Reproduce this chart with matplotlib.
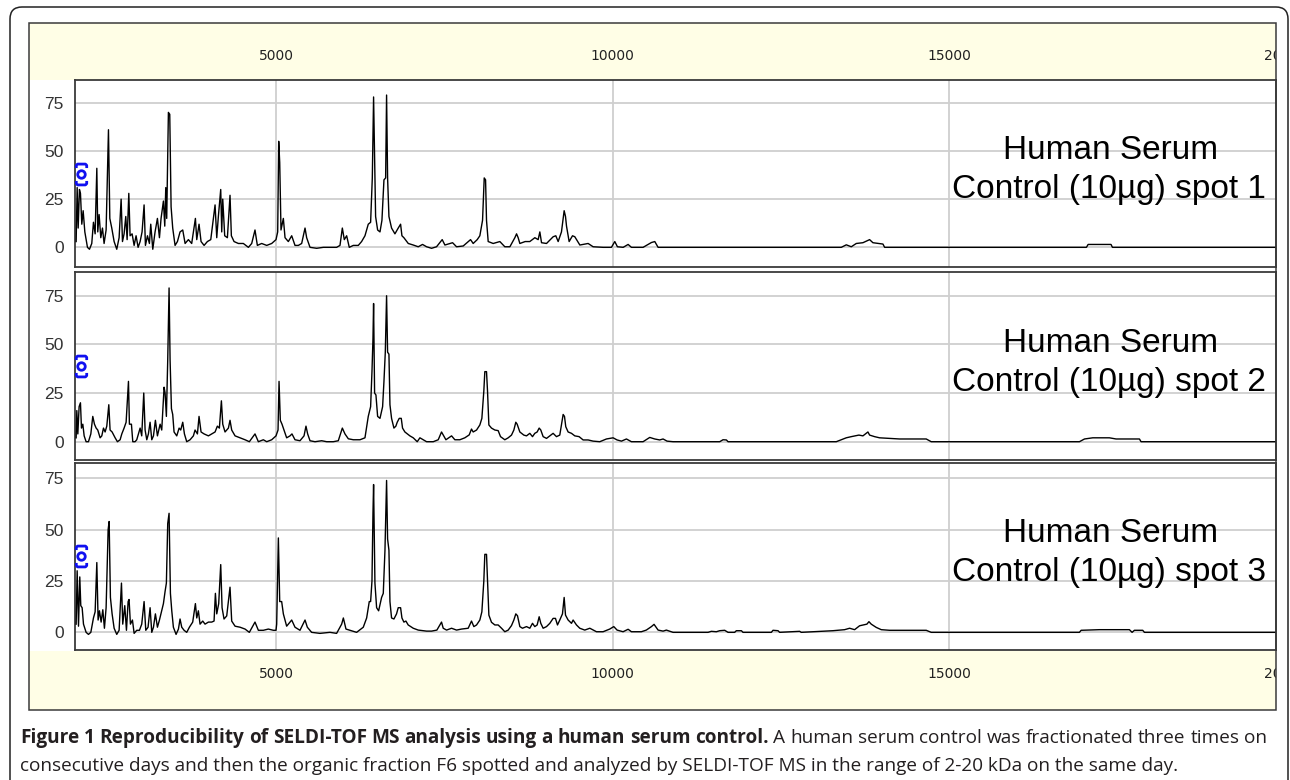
import matplotlib
matplotlib.use("Agg")
import matplotlib.pyplot as plt
from matplotlib.patches import Rectangle, FancyBboxPatch
from matplotlib.path import Path
from matplotlib.transforms import blended_transform_factory, Bbox, TransformedBbox

plt.rcParams['font.family'] = ['Liberation Sans', 'DejaVu Sans']

# ---------------- data (m/z, intensity) ----------------
spot1 = [
    (2032, 3), (2047, 31), (2062, 10), (2081, 30), (2096, 28), (2116, 12), (2136, 19), (2161, 8),
    (2200, 0), (2230, -1), (2264, 2), (2289, 13), (2314, 7), (2339, 41), (2353, 8), (2373, 17),
    (2398, 5), (2423, 10), (2447, 2), (2477, 9), (2512, 61), (2532, 15), (2561, 10), (2596, 3),
    (2635, -1), (2670, 5), (2700, 25), (2720, 3), (2744, 7), (2769, 16), (2789, 4), (2814, 28),
    (2833, 6), (2863, 7), (2893, 1), (2922, 6), (2952, 0), (2982, 3), (3011, 8), (3041, 22),
    (3061, 1), (3091, 6), (3120, 2), (3140, 12), (3170, -1), (3204, 8), (3239, 15), (3269, 5),
    (3293, 15), (3328, 24), (3348, 11), (3363, 31), (3377, 15), (3402, 70), (3422, 69), (3442, 21),
    (3466, 10), (3501, 1), (3536, 3), (3575, 8), (3615, 9), (3650, 2), (3699, 4), (3748, 2),
    (3803, 15), (3823, 4), (3857, 12), (3887, 3), (3932, 1), (3981, 3), (4031, 4), (4095, 22),
    (4120, 5), (4144, 16), (4179, 30), (4194, 8), (4209, 25), (4238, 6), (4278, 5), (4317, 27),
    (4337, 6), (4377, 3), (4441, 2), (4515, 2), (4590, 0), (4639, 2), (4688, 9), (4723, 1),
    (4787, 2), (4862, 1), (4936, 2), (5000, 4), (5025, 8), (5040, 55), (5055, 44), (5074, 9),
    (5109, 15), (5134, 5), (5183, 3), (5233, 6), (5282, 1), (5332, 1), (5381, 2), (5431, 10),
    (5455, 5), (5505, 0), (5604, -0.5), (5703, 0), (5801, 0), (5900, 0), (5950, 1), (5985, 10),
    (6014, 4), (6049, 6), (6088, 0), (6148, 1), (6222, 1), (6271, 3), (6321, 6), (6370, 12),
    (6405, 13), (6430, 36), (6449, 78), (6464, 46), (6479, 16), (6509, 9), (6544, 8), (6573, 14),
    (6603, 35), (6628, 36), (6642, 79), (6657, 36), (6677, 16), (6716, 10), (6766, 7), (6815, 10),
    (6850, 12), (6870, 6), (6899, 5), (6964, 2), (7038, 1.2), (7112, 0.3), (7176, 1.5), (7236, 0.3),
    (7310, -0.5), (7384, 0.3), (7468, 4), (7508, 1.2), (7622, 2.4), (7681, 0.3), (7780, 0.7),
    (7889, 4), (7928, 2), (7988, 4), (8027, 6), (8067, 14), (8092, 36), (8112, 35), (8126, 14),
    (8151, 3), (8225, 2), (8324, 3), (8398, 0.3), (8473, 0.3), (8547, 5), (8572, 7), (8596, 5),
    (8621, 2), (8700, 3), (8769, 3), (8844, 5), (8893, 4), (8918, 8), (8943, 2.4), (9017, 2),
    (9116, 5.5), (9155, 6), (9190, 3), (9239, 8), (9279, 19), (9299, 16), (9314, 11), (9353, 3),
    (9403, 6), (9437, 5.5), (9512, 1.2), (9635, 2), (9709, 0.3), (9858, 0), (9981, 0), (10031, 3),
    (10070, 0.3), (10155, 0), (10229, 1.5), (10278, 0), (10451, 0), (10575, 2.5), (10625, 3),
    (10674, 0), (13394, 0), (13469, 1.3), (13543, 0.3), (13617, 2), (13716, 2.4), (13815, 4),
    (13864, 2.4), (14013, 1.7), (14038, 0), (14359, 0), (17035, 0), (17060, 1.5), (17400, 1.5),
    (17421, 0), (19900, 0),
]

spot2 = [
    (2032, 2), (2042, 16), (2057, 4), (2076, 18), (2096, 20), (2111, 7), (2131, 9), (2151, 3),
    (2180, 0), (2215, 0), (2250, 4), (2279, 13), (2304, 9), (2329, 7), (2353, 6), (2388, 2),
    (2413, 3), (2438, 7), (2462, 5), (2487, 8), (2517, 19), (2536, 6), (2566, 5), (2611, 2),
    (2645, 0), (2685, 1), (2710, 4), (2744, 7), (2774, 10), (2809, 31), (2823, 9), (2853, 9),
    (2873, 0), (2907, 0), (2932, 1), (2982, 7), (3006, 3), (3036, 25), (3056, 6), (3081, 1),
    (3105, 4), (3130, 10), (3155, 1), (3180, 3), (3209, 11), (3239, 3), (3279, 9), (3303, 6),
    (3338, 28), (3353, 25), (3372, 13), (3392, 42), (3412, 79), (3427, 42), (3447, 17), (3466, 14),
    (3486, 5), (3526, 3), (3561, 7), (3585, 6), (3615, 10), (3640, 4), (3674, 0), (3724, 1),
    (3773, 3), (3798, 6), (3833, 4), (3857, 13), (3887, 5), (3932, 4), (3996, 3), (4045, 4),
    (4095, 5), (4129, 8), (4159, 7), (4189, 21), (4209, 9), (4243, 5), (4293, 7), (4317, 11),
    (4342, 6), (4392, 3), (4466, 2), (4540, 1), (4604, 0), (4688, 4), (4738, 0), (4812, 1),
    (4862, 0), (4936, 1), (5000, 3), (5030, 6), (5045, 31), (5064, 11), (5089, 9), (5119, 6),
    (5158, 2), (5208, 3), (5237, 4), (5282, 1), (5356, 0.5), (5416, 3), (5445, 8), (5470, 4),
    (5505, 0.5), (5579, 0), (5678, 0.5), (5752, 0), (5851, 0), (5925, 0.5), (5985, 7), (6024, 4),
    (6074, 1.5), (6148, 1), (6247, 1), (6321, 2), (6370, 13), (6405, 18), (6425, 36), (6440, 53),
    (6449, 71), (6464, 25), (6484, 24), (6509, 13), (6544, 12), (6583, 18), (6603, 31), (6623, 46),
    (6642, 75), (6657, 46), (6677, 45), (6692, 19), (6716, 12), (6751, 7), (6780, 8), (6800, 10),
    (6830, 12), (6860, 12), (6879, 7), (6914, 5), (6988, 3), (7038, 2), (7097, 0), (7137, 2),
    (7236, 0), (7335, 0), (7409, 1), (7458, 5), (7483, 3.5), (7523, 1), (7607, 3), (7656, 1),
    (7730, 1), (7804, 2), (7869, 3.5), (7903, 6.5), (7928, 5), (7978, 6), (8027, 8.6), (8057, 12),
    (8086, 26), (8101, 36), (8126, 36), (8141, 26), (8161, 8.6), (8200, 7), (8250, 6), (8299, 5.7),
    (8334, 2.6), (8398, 1), (8448, 2), (8497, 3.4), (8532, 6), (8561, 10), (8581, 9), (8621, 5),
    (8680, 3.4), (8720, 3), (8769, 4.3), (8809, 2.6), (8843, 4.3), (8878, 5), (8908, 7), (8932, 6),
    (8967, 2.6), (9017, 1.7), (9066, 3), (9115, 4.3), (9165, 2.6), (9214, 3.4), (9239, 8.6),
    (9264, 14), (9284, 13), (9303, 7.7), (9338, 5), (9388, 4.3), (9437, 3), (9501, 2.6), (9561, 0.9),
    (9635, 0.9), (9709, 0.3), (9808, 0), (9907, 1.4), (10006, 2), (10065, 0.9), (10130, 0.3),
    (10204, 1.4), (10278, 0), (10451, 0), (10550, 2.2), (10624, 1.4), (10698, 0.9), (10748, 1.4),
    (10807, 0.3), (10896, 0), (11589, 0), (11638, 1), (11688, 0.9), (11713, 0), (13320, 0),
    (13394, 1), (13468, 2), (13543, 2.6), (13656, 3.4), (13716, 3), (13790, 5), (13815, 3.4),
    (13889, 2.6), (13963, 2), (14111, 1.7), (14260, 1.4), (14656, 1.4), (14730, 0), (16931, 0),
    (17006, 1.4), (17129, 2), (17376, 2), (17475, 1.4), (17822, 1.4), (17846, 0), (19900, 0),
]

spot3 = [
    (2032, 4), (2047, 30), (2067, 3), (2086, 27), (2101, 13), (2121, 12), (2141, 4), (2180, 0),
    (2215, -1), (2250, 0), (2289, 7), (2314, 10), (2339, 34), (2358, 6), (2378, 10.5), (2403, 5),
    (2428, 11), (2452, 2), (2477, 12), (2507, 50), (2522, 54), (2541, 17), (2566, 9), (2596, 2),
    (2635, -1), (2670, 1), (2705, 24), (2724, 4), (2754, 13), (2779, 1), (2804, 15), (2818, 16),
    (2838, 4), (2868, 6), (2893, -0.5), (2932, 1), (2972, 1), (3006, 4), (3041, 15), (3066, 1),
    (3100, 2.5), (3130, 12), (3155, 0), (3180, 2.5), (3209, 9), (3239, 2.5), (3269, 6), (3298, 10),
    (3328, 14), (3353, 20), (3372, 24), (3392, 53), (3412, 58), (3432, 19), (3452, 10.5), (3476, 2.5),
    (3516, -1), (3551, 1.6), (3575, 6.5), (3600, 2.5), (3635, 1), (3674, 0), (3714, 2.5), (3763, 5),
    (3803, 14), (3823, 7), (3847, 10.5), (3872, 4), (3912, 5.5), (3946, 4), (3996, 5), (4045, 5),
    (4080, 5.5), (4100, 19), (4120, 9), (4149, 14), (4179, 33), (4199, 12), (4228, 6.5), (4268, 8),
    (4317, 22), (4342, 5.5), (4392, 3), (4466, 2.5), (4540, 1.6), (4604, 0), (4688, 5), (4738, 1),
    (4812, 1), (4886, 1.6), (4961, 1), (5000, 1), (5010, 4), (5035, 46), (5055, 15), (5084, 15),
    (5109, 9), (5158, 3), (5233, 6), (5282, 2.5), (5356, 1), (5431, 6), (5465, 2.5), (5529, 0),
    (5653, -0.5), (5801, 0), (5900, -0.5), (5975, 4), (6000, 7), (6039, 1.6), (6098, 1), (6197, 0),
    (6296, 2.5), (6346, 7), (6385, 15), (6405, 15), (6425, 25), (6440, 58), (6449, 72), (6469, 24),
    (6494, 12), (6524, 10.5), (6568, 17), (6593, 19), (6618, 40), (6642, 74), (6657, 45.5),
    (6677, 40), (6692, 15), (6716, 7), (6751, 6.5), (6790, 9), (6815, 12), (6850, 12), (6870, 7),
    (6899, 5), (6929, 5.5), (6963, 3.6), (7038, 2), (7112, 1.1), (7236, 0.6), (7310, 0.6),
    (7389, 1.1), (7458, 5), (7483, 2), (7533, 1.1), (7607, 2), (7681, 1.1), (7755, 1.6), (7854, 2),
    (7903, 5.5), (7938, 2.8), (7978, 3.6), (8027, 6), (8057, 10), (8086, 25), (8101, 38), (8126, 38),
    (8141, 25), (8161, 8.4), (8200, 4.9), (8250, 3.6), (8299, 3.6), (8349, 2), (8398, 0.3),
    (8448, 1.1), (8497, 3.3), (8532, 6), (8561, 9), (8586, 8.1), (8621, 2.8), (8660, 2), (8720, 2.8),
    (8769, 2), (8809, 4.4), (8843, 2.8), (8878, 3.6), (8908, 7.6), (8932, 4.4), (8967, 2), (9017, 2.8),
    (9066, 4.4), (9115, 6.8), (9150, 6.8), (9180, 3.6), (9214, 6), (9254, 9), (9279, 17), (9299, 8.4),
    (9338, 6), (9388, 4.4), (9412, 6), (9462, 3.6), (9511, 2), (9585, 1.1), (9660, 2), (9759, 0.3),
    (9857, 0.3), (9956, 1.6), (10016, 2.8), (10065, 1.1), (10154, 0.3), (10229, 1.5), (10278, 0.3),
    (10426, 0.3), (10499, 1.1), (10575, 2.8), (10614, 3.9), (10674, 1.1), (10748, 0.6), (10797, 1.1),
    (10872, 0.3), (10896, 0), (11416, 0), (11465, 0.5), (11539, 0.3), (11589, 0.8), (11663, 1),
    (11713, 0), (11811, 0), (11836, 0.8), (11911, 0.8), (11935, 0), (12356, 0), (12380, 1),
    (12455, 0.8), (12479, 0), (12776, 0.5), (12800, 0), (13271, 0.8), (13444, 1.3), (13518, 2),
    (13592, 1.3), (13666, 3.2), (13775, 4), (13805, 5.2), (13839, 4), (13914, 2.4), (13988, 1.3),
    (14111, 1), (14656, 1), (14730, 0), (16931, 0), (16956, 1), (17228, 1.3), (17673, 1.3),
    (17713, 0), (17747, 1), (17871, 1), (17896, 0), (19900, 0),
]

spot_labels = ["Control (10\u00b5g) spot 1", "Control (10\u00b5g) spot 2", "Control (10\u00b5g) spot 3"]
marker_mz = [2100, 2100, 2100]
marker_int = [38, 39, 37]
x_ticks = [5000, 10000, 15000, 20000]
x_tick_labels = ["5000", "10000", "15000", "20000"]
y_ticks = [0, 25, 50, 75]
y_tick_labels = ["0", "25", "50", "75"]

caption_bold = "Figure 1 Reproducibility of SELDI-TOF MS analysis using a human serum control."
caption_rest1 = "A human serum control was fractionated three times on"
caption_line2 = ("consecutive days and then the organic fraction F6 spotted and analyzed by "
                 "SELDI-TOF MS in the range of 2-20 kDa on the same day.")

# ---------------- layout ----------------
W, H = 1290, 780
fig = plt.figure(figsize=(W / 100, H / 100), dpi=100)
fig.patch.set_facecolor("white")


def fx(px):
    return px / W


def fy(py):
    return 1 - py / H


inch = fig.dpi_scale_trans
YELLOW = "#FFFEE6"
FRAME = "#3a3a3a"

# outer rounded frame
fig.add_artist(FancyBboxPatch((0.10, -0.20), 12.78, 7.93,
                              boxstyle="round,pad=0,rounding_size=0.12",
                              transform=inch, facecolor="none", edgecolor="#222222",
                              lw=1.1, zorder=-2))
# inner panel with cream bands
fig.add_artist(Rectangle((0.29, (H - 710) / 100), 12.47, 6.87, transform=inch,
                         facecolor="white", edgecolor="none", zorder=-2))
fig.add_artist(Rectangle((0.29, (H - 80) / 100), 12.47, 0.57, transform=inch,
                         facecolor=YELLOW, edgecolor="none", zorder=-1))
fig.add_artist(Rectangle((0.29, (H - 710) / 100), 12.47, 0.59, transform=inch,
                         facecolor=YELLOW, edgecolor="none", zorder=-1))
fig.add_artist(Rectangle((0.29, (H - 710) / 100), 12.47, 6.87, transform=inch,
                         facecolor="none", edgecolor=FRAME, lw=1.1, zorder=5))

panels = [(80, 267, -10.2, 86.8), (272, 460, -9.4, 87.2), (463, 650, -8.6, 82.5)]
label_base = [(159, 198), (352, 391), (542, 581)]
spots = [spot1, spot2, spot3]

# blue selection marker (bracketed circle)
verts, codes = [], []
top = [(-0.5, 0.62), (-0.5, 0.88), (-0.38, 1.0), (0.38, 1.0), (0.5, 0.88), (0.5, 0.62)]
bot = [(x, -y) for x, y in top]
for seg in (top, bot):
    verts += seg
    codes += [Path.MOVETO] + [Path.LINETO] * (len(seg) - 1)
circ = Path.circle((0, 0), 0.36)
verts += list(map(tuple, circ.vertices))
codes += list(circ.codes)
bracket_marker = Path(verts, codes)

axes = []
for i, (ytop, ybot, ylo, yhi) in enumerate(panels):
    ax = fig.add_axes([fx(75), fy(ybot), fx(1276) - fx(75), (ybot - ytop) / H])
    axes.append(ax)
    mz = [p[0] for p in spots[i]]
    inten = [p[1] for p in spots[i]]
    ax.plot(mz, inten, color="black", lw=1.0, zorder=3)
    ax.plot([marker_mz[i]], [marker_int[i]], marker=bracket_marker, ms=15,
            mfc="none", mec="#1010F0", mew=2.0, ls="none", zorder=4, clip_on=False)
    ax.set_xlim(2015, 19850)
    ax.set_ylim(ylo, yhi)
    ax.set_xticks(x_ticks[:3])
    ax.set_yticks(y_ticks)
    ax.set_yticklabels(y_tick_labels)
    ax.tick_params(axis="x", length=0, labelbottom=False, labeltop=False)
    ax.tick_params(axis="y", length=0, pad=8, labelsize=12.5, labelcolor="#333333")
    ax.grid(True, color="#cfcfcf", lw=1.3, zorder=0)
    ax.set_axisbelow(True)
    for s in ax.spines.values():
        s.set_color(FRAME)
        s.set_linewidth(1.3)
    b1, b2 = label_base[i]
    fig.text(fx(1111), fy(b1), "Human Serum", ha="center", va="baseline",
             fontsize=24, family="Liberation Sans", color="black", zorder=6)
    fig.text(fx(1109), fy(b2), spot_labels[i], ha="center", va="baseline",
             fontsize=24, family="Liberation Sans", color="black", zorder=6)

# mass tick labels in the cream bands (clipped at the panel edge like the original)
clipbox = TransformedBbox(Bbox([[fx(29), fy(711)], [fx(1276), fy(23)]]), fig.transFigure)
for ax, ypix in ((axes[0], 56), (axes[2], 674)):
    tr = blended_transform_factory(ax.transData, fig.transFigure)
    for v, lab in zip(x_ticks, x_tick_labels):
        t = ax.text(v, fy(ypix), lab, transform=tr, ha="center", va="center",
                    fontsize=10, family="DejaVu Sans", color="#222222", zorder=6)
        t.set_clip_box(clipbox)
        t.set_clip_on(True)

# caption, first line justified
cap_fs = 13.7
renderer = fig.canvas.get_renderer()
words = [(w, "bold") for w in caption_bold.split()] + [(w, "normal") for w in caption_rest1.split()]
texts = []
for w, wt in words:
    texts.append(fig.text(0, fy(743), w, fontsize=cap_fs, fontweight=wt,
                          family=["Open Sans", "DejaVu Sans"], va="baseline", ha="left",
                          color="#231f20"))
widths = [t.get_window_extent(renderer).width for t in texts]
x0, x1 = 20, 1267
gap = (x1 - x0 - sum(widths)) / (len(texts) - 1)
xc = x0
for t, wd in zip(texts, widths):
    t.set_x(fx(xc))
    xc += wd + gap
fig.text(fx(20), fy(771), caption_line2, fontsize=cap_fs, family=["Open Sans", "DejaVu Sans"],
         va="baseline", ha="left", color="#231f20")

fig.savefig("out.png", dpi=100)
